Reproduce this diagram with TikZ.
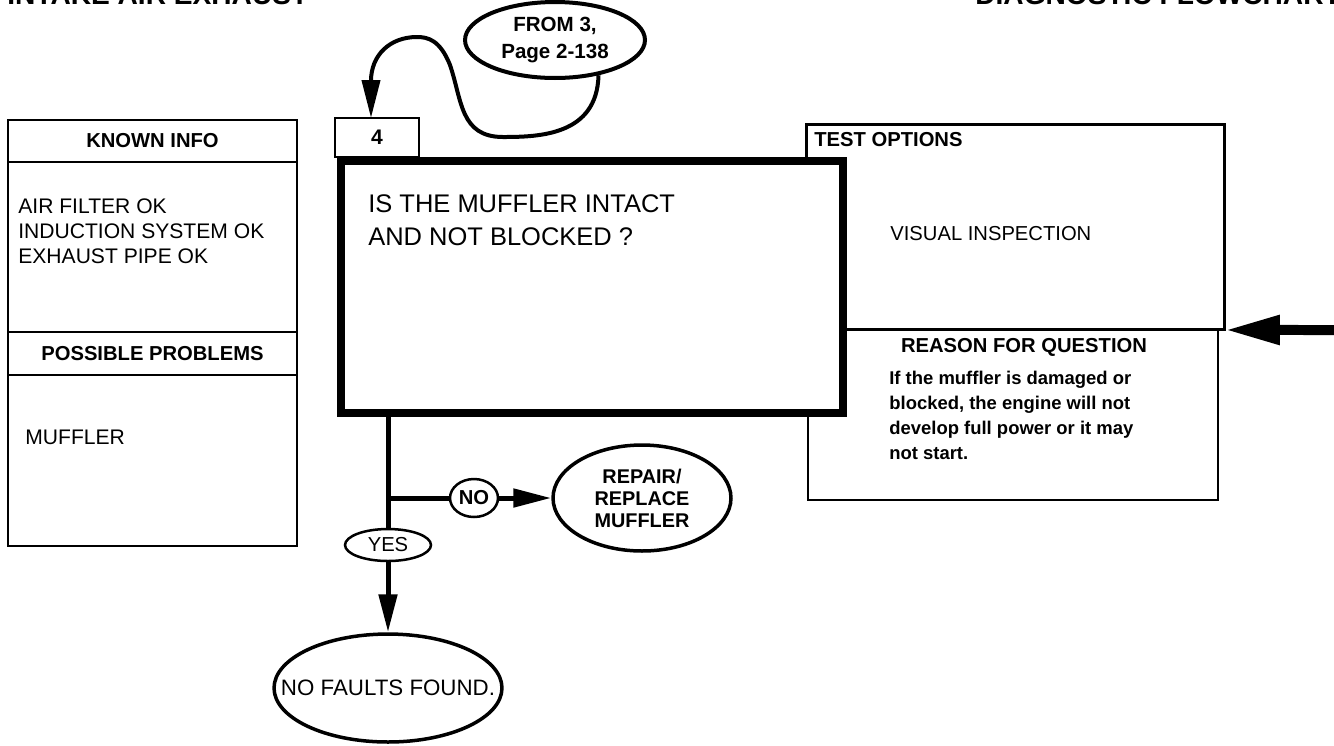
\documentclass[tikz,border=0pt]{standalone}
\usepackage{fontspec}
\setmainfont{Liberation Sans}
\usetikzlibrary{arrows.meta,shapes.geometric}

\tikzset{
  panel/.style={draw, line width=0.05cm, anchor=north west, inner sep=0pt, outer sep=0pt},
  head/.style={font=\fontsize{11.5}{14}\selectfont\bfseries},
  txt/.style={font=\fontsize{12}{14.2}\selectfont, align=left, inner sep=0pt, anchor=west},
  oval/.style={draw, ellipse, line width=0.07cm, inner sep=0pt, align=center},
  flow/.style={line width=0.1cm},
  tip/.style={-{Triangle[length=0.76cm,width=0.36cm]}}
}

\begin{document}
\begin{tikzpicture}[x=0.02cm, y=-0.02cm]
\useasboundingbox (0,0) rectangle (1334,745);

% page titles, cut by the top edge
\node[anchor=base west, inner sep=0pt, font=\fontsize{16}{16}\selectfont\bfseries] (ttlleft) at (7,4) {INTAKE AIR EXHAUST};
\node[anchor=base west, inner sep=0pt, font=\fontsize{16}{16}\selectfont\bfseries] (ttlright) at (975,4) {DIAGNOSTIC FLOWCHART};

% left column
\node[panel, head, minimum width=5.78cm, minimum height=0.84cm] (kihead) at (8,120) {KNOWN INFO};
\node[panel, minimum width=5.78cm, minimum height=3.4cm] (kibody) at (8,162) {};
\node[txt] (kilist) at (18,231) {AIR FILTER OK\\INDUCTION SYSTEM OK\\EXHAUST PIPE OK};
\node[panel, head, minimum width=5.78cm, minimum height=0.86cm] (pphead) at (8,332) {POSSIBLE PROBLEMS};
\node[panel, minimum width=5.78cm, minimum height=3.42cm] (ppbody) at (8,375) {};
\node[txt] (pplist) at (25,437) {MUFFLER};

% right column
\node[panel, line width=0.06cm, minimum width=8.38cm, minimum height=4.12cm] (tbox) at (806,124) {};
\node[panel, minimum width=8.2cm, minimum height=3.4cm] (rbox) at (808,330) {};
\node[head, anchor=west, inner sep=0pt] (thead) at (814,140) {TEST OPTIONS};
\node[txt, font=\fontsize{11.5}{14}\selectfont] (tlist) at (890,234) {VISUAL INSPECTION};
\node[head, inner sep=0pt] (rhead) at (1024,347) {REASON FOR QUESTION};
\node[txt, font=\fontsize{10.5}{14.2}\selectfont\bfseries] (rtext) at (889,415) {If the muffler is damaged or\\blocked, the engine will not\\develop full power or it may\\not start.};

% question box
\node[panel, line width=0.16cm, fill=white, minimum width=10.04cm, minimum height=5.04cm] (qbox) at (341,161) {};
\node[txt, font=\fontsize{14.5}{18.7}\selectfont] (qtext) at (368,220) {IS THE MUFFLER INTACT\\AND NOT BLOCKED ?};
\node[panel, font=\fontsize{12}{14}\selectfont\bfseries, minimum width=1.68cm, minimum height=0.78cm] (four) at (335,118) {4};

% ovals
\node[oval, line width=0.08cm, minimum width=3.6cm, minimum height=1.52cm, font=\fontsize{11.7}{15.3}\selectfont\bfseries] (from) at (555,40) {FROM 3,\\Page 2-138};
\node[oval, minimum width=1.72cm, minimum height=0.64cm, line width=0.05cm, font=\fontsize{11.5}{14}\selectfont] (yes) at (388,545) {YES};
\node[oval, minimum width=0.96cm, minimum height=0.76cm, line width=0.05cm, font=\fontsize{11.5}{14}\selectfont\bfseries] (no) at (474,498) {NO};
\node[oval, minimum width=3.56cm, minimum height=2.12cm, font=\fontsize{11.3}{12.5}\selectfont\bfseries] (repair) at (642,498) {REPAIR/\\REPLACE\\MUFFLER};
\node[oval, minimum width=4.56cm, minimum height=2.16cm, label={[font=\fontsize{12.7}{14}\selectfont]center:NO FAULTS FOUND.}] (nofault) at (388,688) {};

% connectors
\draw[line width=0.08cm, tip] (from.-39) .. controls (597,135) and (540,137) .. (503,137)
  .. controls (460,137) and (462,100) .. (450,65)
  .. controls (440,40) and (428,37) .. (417,37)
  .. controls (390,37) and (371,55) .. ([xshift=-0.12cm]four.north);
\draw[flow] (yes.north |- qbox.south) -- (yes.north);
\draw[flow] (yes.north |- no.west) -- (no.west);
\draw[flow, tip] (no) -- (repair);
\draw[flow, tip] (yes) -- (nofault);
\coordinate (rin) at (1334,330);
\draw[line width=0.2cm, -{Triangle[length=1.1cm,width=0.55cm]}] (rin) -- (tbox.south east);
\end{tikzpicture}
\end{document}
